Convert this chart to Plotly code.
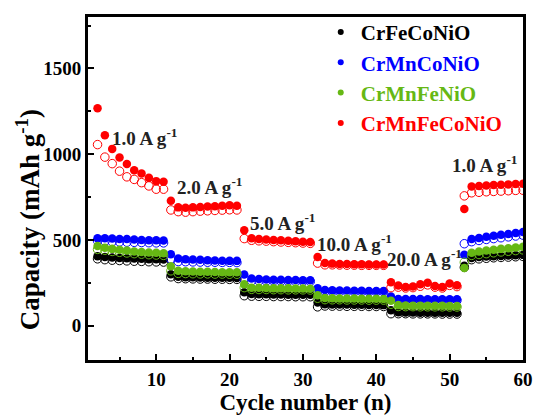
import plotly.graph_objects as go

cycles = [2, 3, 4, 5, 6, 7, 8, 9, 10, 11,
          12, 13, 14, 15, 16, 17, 18, 19, 20, 21,
          22, 23, 24, 25, 26, 27, 28, 29, 30, 31,
          32, 33, 34, 35, 36, 37, 38, 39, 40, 41,
          42, 43, 44, 45, 46, 47, 48, 49, 50, 51,
          52, 53, 54, 55, 56, 57, 58, 59, 60]

# CrFeCoNiO (black)
black_fill = [405, 400, 398, 395, 393, 392, 390, 388, 387, 386,
              300, 285, 283, 282, 281, 280, 280, 279, 279, 278,
              195, 185, 184, 183, 182, 182, 181, 181, 180, 180,
              135, 125, 124, 123, 123, 122, 122, 121, 121, 120,
              90, 78, 77, 77, 76, 76, 76, 75, 75, 75,
              350, 395, 400, 403, 405, 407, 409, 411, 413]
black_open = [390, 385, 382, 380, 378, 376, 375, 373, 372, 371,
              285, 275, 274, 273, 272, 272, 271, 271, 270, 270,
              175, 172, 171, 171, 170, 170, 170, 169, 169, 169,
              110, 115, 114, 114, 113, 113, 113, 112, 112, 112,
              70, 70, 70, 69, 69, 69, 69, 68, 68, 68,
              340, 385, 390, 393, 396, 398, 400, 402, 404]

# CrMnCoNiO (blue)
blue_fill = [510, 510, 508, 506, 505, 503, 500, 498, 498, 497,
             417, 392, 388, 386, 384, 382, 380, 379, 378, 378,
             298, 275, 272, 270, 268, 268, 267, 266, 265, 265,
             218, 208, 206, 205, 205, 204, 204, 203, 203, 203,
             170, 156, 155, 155, 155, 154, 154, 154, 154, 154,
             413, 505, 512, 518, 524, 530, 535, 540, 546]
blue_open = [495, 492, 490, 488, 487, 486, 485, 484, 483, 483,
             388, 374, 373, 372, 371, 370, 370, 369, 369, 368,
             270, 262, 261, 260, 260, 259, 259, 258, 258, 258,
             205, 200, 199, 199, 198, 198, 198, 197, 197, 197,
             158, 150, 149, 149, 149, 148, 148, 148, 148, 148,
             478, 490, 497, 503, 508, 513, 518, 523, 528]

# CrMnFeNiO (green)
green_fill = [465, 455, 448, 443, 438, 433, 430, 427, 425, 423,
              346, 320, 318, 316, 315, 314, 313, 312, 312, 311,
              241, 222, 221, 220, 219, 218, 218, 217, 217, 216,
              178, 162, 160, 159, 158, 158, 157, 157, 157, 156,
              145, 120, 118, 117, 117, 116, 116, 116, 115, 115,
              337, 425, 432, 438, 443, 448, 452, 456, 460]
green_open = [445, 440, 433, 428, 424, 420, 417, 414, 412, 410,
              320, 305, 304, 303, 302, 302, 301, 301, 300, 300,
              222, 212, 211, 211, 210, 210, 209, 209, 209, 208,
              160, 152, 151, 151, 150, 150, 150, 149, 149, 149,
              125, 112, 111, 111, 110, 110, 110, 110, 109, 109,
              370, 410, 415, 420, 425, 430, 434, 438, 442]

# CrMnFeCoNiO (red)
red_fill = [1268, 1111, 1031, 981, 943, 906, 887, 862, 843, 839,
            729, 690, 688, 690, 692, 695, 697, 700, 702, 700,
            556, 510, 505, 502, 500, 498, 495, 493, 490, 488,
            400, 365, 362, 360, 360, 358, 358, 357, 357, 357,
            254, 235, 226, 228, 242, 250, 232, 226, 246, 236,
            681, 812, 815, 818, 820, 822, 824, 826, 828]
red_open = [1056, 983, 945, 901, 868, 853, 834, 815, 796, 796,
            675, 665, 662, 665, 668, 670, 672, 674, 676, 675,
            508, 498, 495, 493, 490, 488, 486, 484, 482, 480,
            365, 355, 355, 354, 353, 353, 352, 352, 352, 352,
            222, 225, 220, 222, 230, 238, 225, 220, 235, 228,
            757, 775, 778, 781, 783, 785, 787, 789, 790]

series = [
    ("CrFeCoNiO", "#000000", black_fill, black_open),
    ("CrMnCoNiO", "#0000ff", blue_fill, blue_open),
    ("CrMnFeNiO", "#66b814", green_fill, green_open),
    ("CrMnFeCoNiO", "#ff0000", red_fill, red_open),
]

rate_labels = ["1.0 A g<sup>-1</sup>", "2.0 A g<sup>-1</sup>", "5.0 A g<sup>-1</sup>",
               "10.0 A g<sup>-1</sup>", "20.0 A g<sup>-1</sup>", "1.0 A g<sup>-1</sup>"]
rate_label_x = [3.7, 12.6, 22.5, 31.7, 41.2, 50.0]
rate_label_y = [1101, 815, 602, 482, 396, 941]

FONT = "Liberation Serif"

fig = go.Figure()
for name, color, filled, opened in series:
    fig.add_trace(go.Scatter(
        x=cycles, y=opened, mode="markers", name=name, legendgroup=name,
        showlegend=False,
        marker=dict(symbol="circle-open", size=8.5, color=color, line=dict(width=1, color=color)),
    ))
    fig.add_trace(go.Scatter(
        x=cycles, y=filled, mode="markers", name=name, legendgroup=name,
        showlegend=False,
        marker=dict(symbol="circle", size=8.5, color=color),
    ))
# legend entries (small dots, coloured names)
for name, color, filled, opened in series:
    fig.add_trace(go.Scatter(
        x=[None], y=[None], mode="markers", legendgroup=name,
        name="<span style='color:%s'>%s</span>" % (color, name),
        marker=dict(symbol="circle", size=6, color=color),
    ))

for txt, xx, yy in zip(rate_labels, rate_label_x, rate_label_y):
    fig.add_annotation(x=xx, y=yy, text="<b>%s</b>" % txt, showarrow=False,
                       xanchor="left", yanchor="middle",
                       font=dict(family=FONT, size=19, color="#222222"))

# y-axis title
fig.add_annotation(xref="paper", yref="paper", x=-0.138, y=0.41,
                   text="<b>Capacity (mAh g<sup>-1</sup>)</b>", textangle=-90,
                   showarrow=False, xanchor="center", yanchor="middle",
                   font=dict(family=FONT, size=27, color="black"))

fig.update_xaxes(
    range=[0.7, 60], dtick=10, tick0=0,
    showline=True, linewidth=3, linecolor="black", mirror=True,
    ticks="inside", ticklen=6, tickwidth=2, tickcolor="black",
    showgrid=False, zeroline=False, automargin=False,
    tickfont=dict(family=FONT, size=19, color="black", weight="bold"),
    minor=dict(ticks="inside", dtick=5, tick0=0, ticklen=3, tickwidth=2, tickcolor="black", showgrid=False),
    title=dict(text="<b>Cycle number (n)</b>", font=dict(family=FONT, size=23, color="black"), standoff=2),
)
fig.update_yaxes(
    range=[-200, 1800], dtick=500, tick0=0,
    showline=True, linewidth=3, linecolor="black", mirror=True,
    ticks="inside", ticklen=6, tickwidth=2, tickcolor="black",
    showgrid=False, zeroline=False, automargin=False,
    tickfont=dict(family=FONT, size=19, color="black", weight="bold"),
    minor=dict(ticks="inside", dtick=250, tick0=0, ticklen=3, tickwidth=2, tickcolor="black", showgrid=False),
)

fig.update_layout(
    width=536, height=416,
    margin=dict(l=88, r=13, t=13, b=56),
    plot_bgcolor="white", paper_bgcolor="white",
    font=dict(family=FONT),
    legend=dict(x=0.535, y=1.015, xanchor="left", yanchor="top",
                bgcolor="rgba(0,0,0,0)", itemsizing="trace",
                tracegroupgap=0,
                font=dict(family=FONT, size=21, weight="bold")),
)

fig.write_html("out.html", config={"displayModeBar": False},
               post_script="document.body.style.margin='0';document.body.style.overflow='hidden';")
